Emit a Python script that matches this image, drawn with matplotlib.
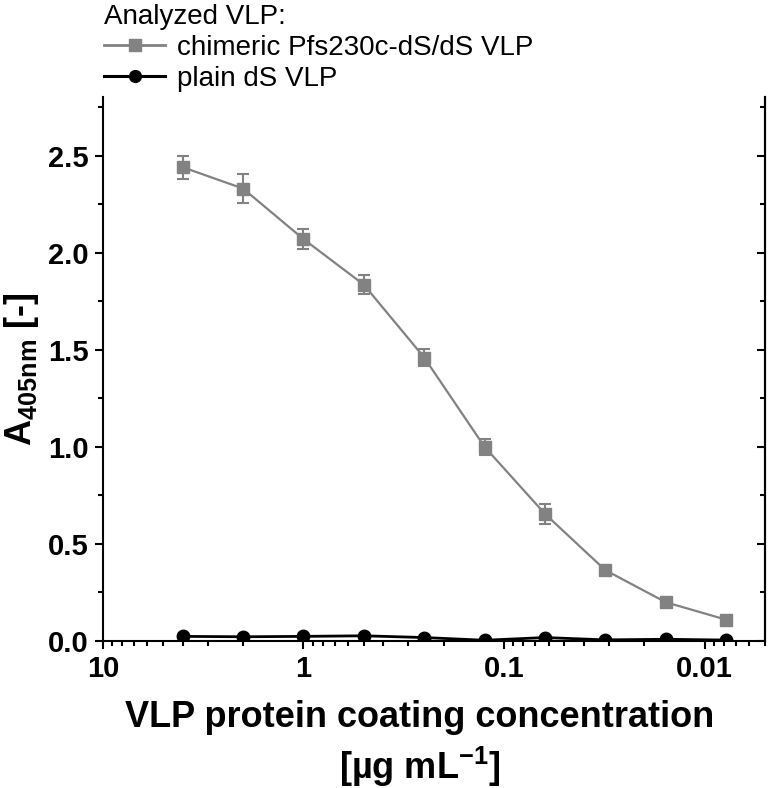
import matplotlib

matplotlib.use("Agg")
import matplotlib.pyplot as plt
from matplotlib.lines import Line2D
from matplotlib.ticker import FixedLocator, FuncFormatter, LogLocator, MultipleLocator, NullFormatter

plt.rcParams["font.family"] = ["Liberation Sans", "DejaVu Sans"]
plt.rcParams["mathtext.fontset"] = "custom"
plt.rcParams["mathtext.rm"] = "Liberation Sans"
plt.rcParams["mathtext.bf"] = "Liberation Sans:bold"

# coating concentration series (ug/mL), 2-fold dilutions
conc = [4, 2, 1, 0.5, 0.25, 0.125, 0.0625, 0.03125, 0.015625, 0.0078125]
chimeric = [2.44, 2.33, 2.07, 1.835, 1.46, 1.0, 0.655, 0.365, 0.20, 0.11]
chimeric_err = [0.06, 0.075, 0.053, 0.05, 0.045, 0.04, 0.05, 0.015, 0.015, 0.012]
plain = [0.024, 0.022, 0.024, 0.027, 0.018, 0.004, 0.018, 0.006, 0.009, 0.005]

x_ticks = [10, 1, 0.1, 0.01]
y_ticks = [0.0, 0.5, 1.0, 1.5, 2.0, 2.5]

GRAY = "#828282"

fig = plt.figure(figsize=(7.68, 7.88), dpi=100)
ax = fig.add_axes([0.134, 0.1865, 0.862, 0.69])

ax.errorbar(conc, chimeric, yerr=chimeric_err, color=GRAY, marker="s", markersize=8.5,
            linewidth=1.6, elinewidth=1.5, capsize=4.5, capthick=1.5, zorder=3)
ax.plot(conc, plain, color="black", marker="o", markersize=9, linewidth=2, zorder=4)

ax.set_xscale("log")
ax.set_xlim(10, 0.005)
ax.set_ylim(0, 2.8)

ax.xaxis.set_major_locator(FixedLocator(x_ticks))
ax.xaxis.set_major_formatter(FuncFormatter(lambda v, p: f"{v:g}"))
ax.xaxis.set_minor_locator(LogLocator(base=10, subs=range(2, 10)))
ax.xaxis.set_minor_formatter(NullFormatter())
ax.yaxis.set_major_locator(FixedLocator(y_ticks))
ax.yaxis.set_major_formatter(FuncFormatter(lambda v, p: f"{v:.1f}"))
ax.yaxis.set_minor_locator(MultipleLocator(0.25))

for side in ["left", "bottom", "right"]:
    ax.spines[side].set_linewidth(1.5)
ax.spines["top"].set_visible(False)

ax.tick_params(which="major", direction="out", length=6, width=1.5, labelsize=21, pad=4)
ax.tick_params(which="minor", direction="out", length=3.5, width=1.5)
for label in ax.get_xticklabels() + ax.get_yticklabels():
    label.set_fontweight("bold")

right = ax.secondary_yaxis("right")
right.yaxis.set_major_locator(FixedLocator(y_ticks))
right.yaxis.set_minor_locator(MultipleLocator(0.25))
right.tick_params(which="both", direction="in", labelright=False, width=1.5)
right.tick_params(which="major", length=6)
right.tick_params(which="minor", length=3.5)
right.spines["right"].set_linewidth(1.5)

ax.set_xlabel("VLP protein coating concentration\n[µg mL$^{\\mathbf{-1}}$]",
              fontsize=26, fontweight="bold", linespacing=1.3)
ax.xaxis.set_label_coords(0.479, -0.108)
ax.set_ylabel("A$_{\\mathbf{405nm}}$ [-]", fontsize=26, fontweight="bold")
ax.yaxis.set_label_coords(-0.094, 0.5)

handles = [
    Line2D([], [], color=GRAY, marker="s", markersize=8, linewidth=2),
    Line2D([], [], color="black", marker="o", markersize=8.5, linewidth=2.2),
]
labels = ["chimeric Pfs230c-dS/dS VLP", "plain dS VLP"]
leg = ax.legend(handles, labels, loc="upper left", bbox_to_anchor=(0.134, 0.997),
                bbox_transform=fig.transFigure, frameon=False, fontsize=20,
                title="Analyzed VLP:", title_fontsize=20, alignment="left",
                handlelength=2.2, handletextpad=0.42, labelspacing=0.18,
                borderpad=0.05, borderaxespad=0)

fig.savefig("out.png", dpi=100)
